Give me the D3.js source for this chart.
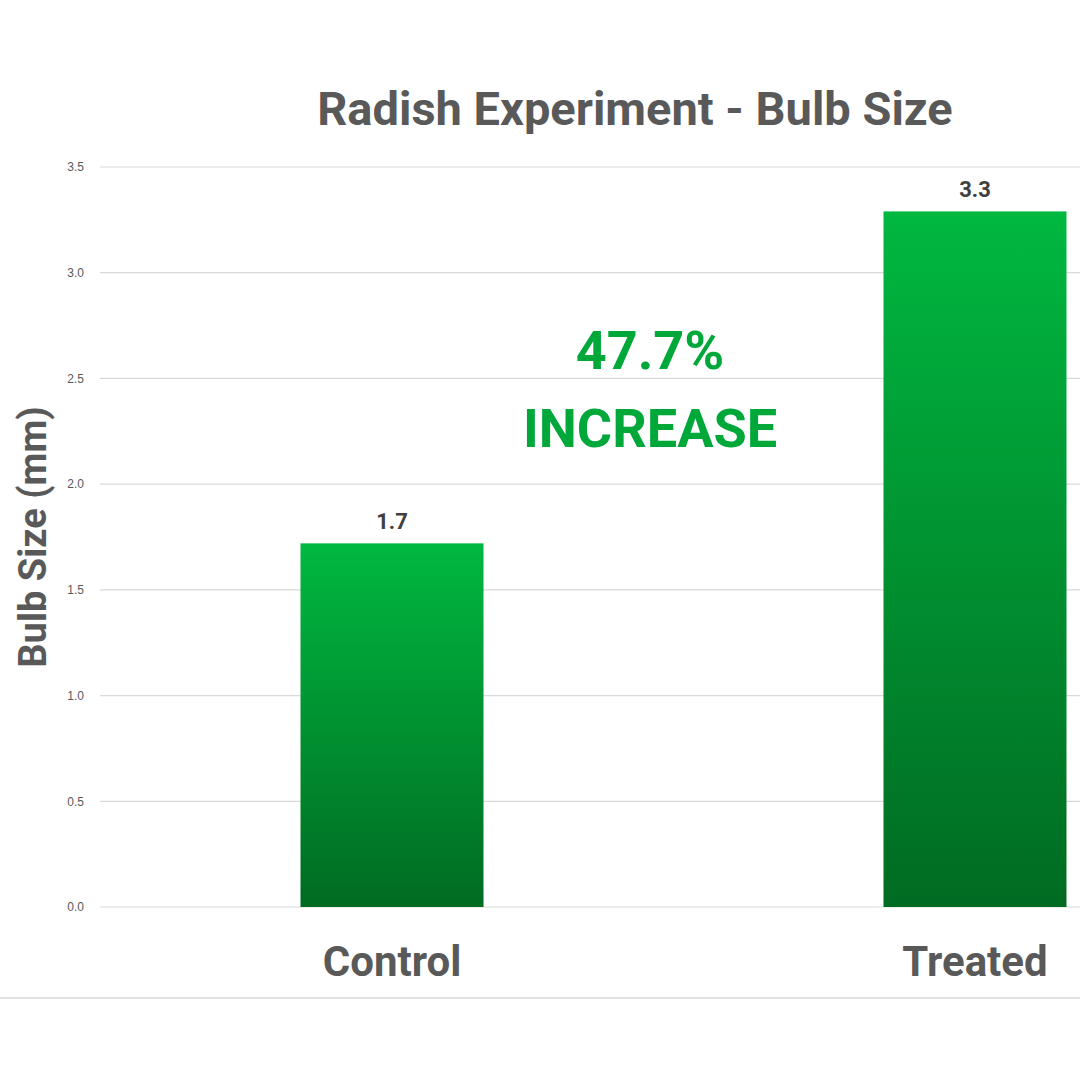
<!DOCTYPE html>
<html><head><meta charset="utf-8">
<script src="https://cdn.jsdelivr.net/npm/d3@7"></script>
<style>body{margin:0;background:#fff}svg{display:block;font-family:Roboto,"Liberation Sans",Arial,sans-serif}</style>
</head><body>
<script>
const categories = ['Control', 'Treated'];
const values = [1.72, 3.29];
const valueLabels = ['1.7', '3.3'];
const ticks = [0, 0.5, 1.0, 1.5, 2.0, 2.5, 3.0, 3.5];

const W = 1080, H = 1080;
const grey = '#595959';
const svg = d3.select('body').append('svg').attr('width', W).attr('height', H);

const y = d3.scaleLinear().domain([0, 3.5]).range([907, 167]);
const x = d3.scalePoint().domain(categories).range([392, 975]);
const barW = 183;

const grad = svg.append('defs').append('linearGradient')
    .attr('id', 'g').attr('x1', 0).attr('y1', 0).attr('x2', 0).attr('y2', 1);
grad.append('stop').attr('offset', '0%').attr('stop-color', '#00b840');
grad.append('stop').attr('offset', '100%').attr('stop-color', '#006b22');

// gridlines + tick labels
const axis = d3.axisLeft(y).tickValues(ticks).tickFormat(d3.format('.1f')).tickSize(0).tickPadding(0);
const ga = svg.append('g').attr('transform', 'translate(84,0)').call(axis);
ga.select('.domain').remove();
ga.selectAll('text').attr('fill', grey).style('font-size', '12px');
svg.append('g').selectAll('line').data(ticks).join('line')
    .attr('x1', 100).attr('x2', W)
    .attr('y1', d => y(d)).attr('y2', d => y(d))
    .attr('stroke', '#d9d9d9').attr('stroke-width', 1.2);

// bars
svg.append('g').selectAll('rect').data(values).join('rect')
    .attr('x', (d, i) => x(categories[i]) - barW / 2)
    .attr('width', barW)
    .attr('y', d => y(d))
    .attr('height', d => y(0) - y(d))
    .attr('fill', 'url(#g)');

svg.append('g').selectAll('text').data(values).join('text')
    .attr('x', (d, i) => x(categories[i]))
    .attr('y', d => y(d) - 14)
    .attr('text-anchor', 'middle').attr('fill', '#404040')
    .style('font-size', '22px').style('font-weight', 'bold')
    .text((d, i) => valueLabels[i]);

// category labels
svg.append('g').selectAll('text').data(categories).join('text')
    .attr('x', d => x(d)).attr('y', 976)
    .attr('text-anchor', 'middle').attr('fill', grey)
    .style('font-size', '42px').style('font-weight', 'bold')
    .text(d => d);

svg.append('line').attr('x1', 0).attr('x2', W).attr('y1', 998).attr('y2', 998)
    .attr('stroke', '#d9d9d9').attr('stroke-width', 1.5);

// title + axis title
svg.append('text').attr('x', 635).attr('y', 125).attr('text-anchor', 'middle')
    .attr('fill', grey).style('font-size', '47px').style('font-weight', 'bold')
    .text('Radish Experiment - Bulb Size');
svg.append('text').attr('transform', 'translate(46,537) rotate(-90)')
    .attr('text-anchor', 'middle').attr('fill', grey)
    .style('font-size', '38px').style('font-weight', 'bold')
    .text('Bulb Size (mm)');

// annotation
const ann = svg.append('g').attr('fill', '#00a83a').style('font-weight', 'bold')
    .style('font-size', '54px').attr('text-anchor', 'middle');
ann.append('text').attr('x', 650).attr('y', 369).text('47.7%');
ann.append('text').attr('x', 650).attr('y', 447).text('INCREASE');
</script>
</body></html>
